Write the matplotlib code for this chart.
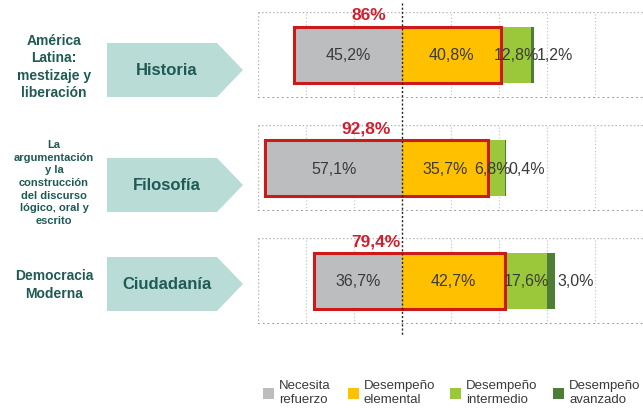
import matplotlib.pyplot as plt
from matplotlib.patches import Polygon, Rectangle
from matplotlib.lines import Line2D

plt.rcParams['font.family'] = ['Liberation Sans', 'DejaVu Sans']

subjects = ["Historia", "Filosofía", "Ciudadanía"]
topics = ["América\nLatina:\nmestizaje y\nliberación",
          "La\nargumentación\ny la\nconstrucción\ndel discurso\nlógico, oral y\nescrito",
          "Democracia\nModerna"]
necesita = [45.2, 57.1, 36.7]
elemental = [40.8, 35.7, 42.7]
intermedio = [12.8, 6.8, 17.6]
avanzado = [1.2, 0.4, 3.0]
totals = ["86%", "92,8%", "79,4%"]
levels = ["Necesita\nrefuerzo", "Desempeño\nelemental", "Desempeño\nintermedio", "Desempeño\navanzado"]
colors = ["#bbbdbf", "#ffc000", "#9bc83b", "#4e7d36"]

W, H = 643, 410
fig = plt.figure(figsize=(W / 100, H / 100), dpi=100)

def fx(px):
    return px / W

def fy(py):
    return 1 - py / H

# panel pixel extents (top, bottom)
panels = [(13, 99), (126, 212), (239, 325)]
arrows = [(44, 98), (159, 213), (258, 312)]
topic_y = [67, 183, 285]
topic_fs = [10, 8, 10]
topic_ls = [1.3, 1.32, 1.4]
total_x = [-14, -15, -11]
green_shift = [0, -1.5, 0]
teal = "#1f5a55"

for i in range(3):
    top, bot = panels[i]
    ax = fig.add_axes([fx(258), fy(bot), fx(643 - 258), (bot - top) / H])
    ax.set_xlim(-60, 100)
    ax.set_ylim(0, 1)
    ax.axis("off")
    for gx in [-40, -20, 20, 40, 60, 80]:
        ax.axvline(gx, color="#c8c8c8", lw=0.9, ls=":")
    ax.axvline(-60, color="#b0b0b0", lw=1, ls=":")
    ax.axhline(0.005, color="#909090", lw=1.3, ls=":")
    ax.axhline(0.995, color="#b0b0b0", lw=1, ls=":")

    segs = [-necesita[i], elemental[i], intermedio[i], avanzado[i]]
    lefts = [0, 0, elemental[i], elemental[i] + intermedio[i]]
    ax.barh(0.5, segs, left=lefts, height=0.64, color=colors, zorder=2)
    # red outline around necesita + elemental
    ax.add_patch(Rectangle((-necesita[i], 0.18), necesita[i] + elemental[i], 0.64,
                           fill=False, ec="#cc1a1a", lw=2.2, zorder=4))
    tc = "#3a3a3a"
    ax.text(-necesita[i] / 2, 0.5, f"{necesita[i]:.1f}%".replace(".", ","),
            ha="center", va="center", fontsize=11.5, color=tc, zorder=5)
    ax.text(elemental[i] / 2, 0.5, f"{elemental[i]:.1f}%".replace(".", ","),
            ha="center", va="center", fontsize=11.5, color=tc, zorder=5)
    ax.text(elemental[i] + intermedio[i] / 2 + green_shift[i], 0.5,
            f"{intermedio[i]:.1f}%".replace(".", ","),
            ha="center", va="center", fontsize=11.5, color=tc, zorder=5)
    ax.text(elemental[i] + intermedio[i] + avanzado[i] + 1.2, 0.5,
            f"{avanzado[i]:.1f}%".replace(".", ","),
            ha="left", va="center", fontsize=11.5, color=tc, zorder=5)
    ax.text(total_x[i], 0.97, totals[i], ha="center", va="center", fontsize=12.5,
            fontweight="bold", color="#d0202e", zorder=6)

    # left side: topic and subject arrow
    a_top, a_bot = arrows[i]
    mid = (a_top + a_bot) / 2
    pts = [(fx(107), fy(a_top)), (fx(217), fy(a_top)), (fx(243), fy(mid)),
           (fx(217), fy(a_bot)), (fx(107), fy(a_bot))]
    fig.patches.append(Polygon(pts, closed=True, transform=fig.transFigure,
                               fc="#b9dcd6", ec="none"))
    fig.text(fx(167), fy(mid), subjects[i], ha="center", va="center",
             fontsize=12, fontweight="bold", color=teal)
    fig.text(fx(54), fy(topic_y[i]), topics[i], ha="center", va="center",
             fontsize=topic_fs[i], fontweight="bold", color=teal,
             linespacing=topic_ls[i])

# centre line across all panels
fig.lines.append(Line2D([fx(402), fx(402)], [fy(4), fy(336)], transform=fig.transFigure,
                        color="#222222", lw=1, ls=(0, (1.5, 1.5))))

# legend
leg_sq = [263, 348, 450, 553]
for i in range(4):
    fig.patches.append(Rectangle((fx(leg_sq[i]), fy(400)), fx(11), 11 / H,
                                 transform=fig.transFigure, fc=colors[i], ec="none"))
    fig.text(fx(leg_sq[i] + 16), fy(393), levels[i], ha="left", va="center",
             fontsize=9.5, color="#3a3a3a", linespacing=1.25)

fig.savefig("out.png", dpi=100)
